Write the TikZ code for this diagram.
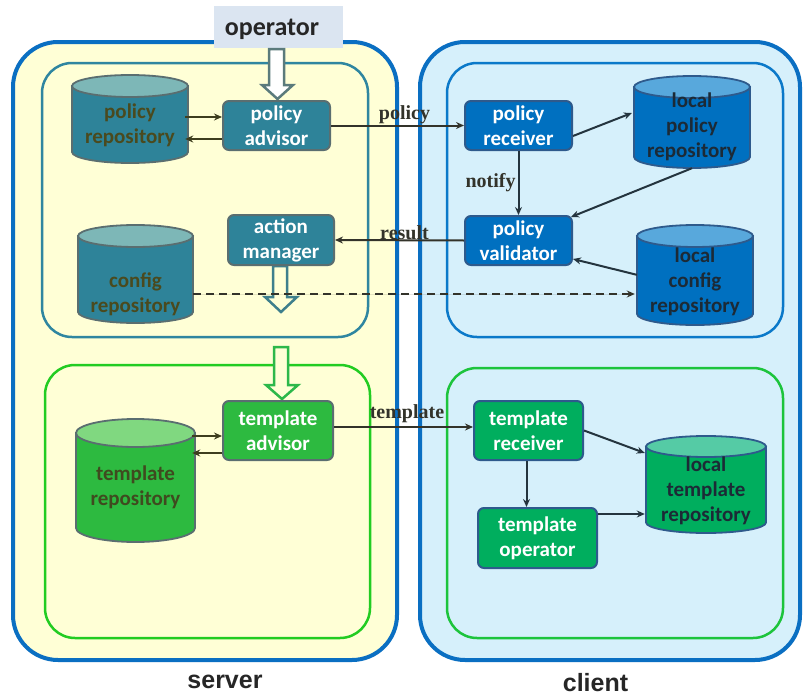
\documentclass[tikz,border=0pt]{standalone}
\usepackage{fontspec}
\setmainfont{Carlito}
\newfontfamily\lblfont{Liberation Serif}
\newfontfamily\ttlfont{Liberation Sans}
\usetikzlibrary{arrows.meta}
\definecolor{outerblue}{HTML}{0A6FC2}
\definecolor{serverbg}{HTML}{FFFFD6}
\definecolor{clientbg}{HTML}{D6F0FB}
\definecolor{tealline}{HTML}{2F86A0}
\definecolor{sgreenline}{HTML}{22CC22}
\definecolor{cblueline}{HTML}{0B79C9}
\definecolor{cgreenline}{HTML}{1DC43C}
\definecolor{opbg}{HTML}{DBE5F1}
\definecolor{tlbody}{HTML}{2E8399}
\definecolor{tltop}{HTML}{7DB7B7}
\definecolor{tltext}{HTML}{4A4A1E}
\definecolor{tlline}{HTML}{5A6E70}
\definecolor{sgbody}{HTML}{2DBA40}
\definecolor{sgtop}{HTML}{80D880}
\definecolor{sgtext}{HTML}{3F4A1F}
\definecolor{sgline}{HTML}{5A6E70}
\definecolor{cbbody}{HTML}{0070C0}
\definecolor{cbtop}{HTML}{58A8DC}
\definecolor{cbtext}{HTML}{1C2A36}
\definecolor{cbline}{HTML}{2E5A8C}
\definecolor{cgbody}{HTML}{00AE5E}
\definecolor{cgtop}{HTML}{55CBA5}
\definecolor{cgtext}{HTML}{1C2A36}
\definecolor{cgline}{HTML}{2E5A8C}
\definecolor{olivearr}{HTML}{3E3E1E}
\definecolor{slatearr}{HTML}{24343E}
\definecolor{midarr}{HTML}{33332A}
\definecolor{blockteal}{HTML}{5B7B7C}
\definecolor{blockteal2}{HTML}{3E7F8C}
\definecolor{blockgreen}{HTML}{2DB84A}
\newcommand{\dbcyl}[9]{%
 \pgfmathsetmacro{\dbcx}{(#2+#4)/2}%
 \pgfmathsetmacro{\dbrx}{(#4-#2)/2}%
 \pgfmathsetmacro{\dbya}{#3+#7}%
 \pgfmathsetmacro{\dbyb}{#5-#7}%
 \pgfmathsetmacro{\dbcy}{(#3+#5)/2}%
 \pgfmathsetmacro{\dbw}{#4-#2}%
 \pgfmathsetmacro{\dbh}{#5-#3}%
 \filldraw[line width=1.8pt, draw=#6line, fill=#6body] (#2,\dbya) -- (#2,\dbyb) arc[start angle=180, end angle=360, x radius=\dbrx pt, y radius=#7 pt] -- (#4,\dbya) -- cycle;
 \filldraw[line width=1.8pt, draw=#6line, fill=#6top] (\dbcx,\dbya) ellipse[x radius=\dbrx pt, y radius=#7 pt];
 \node[inner sep=0, minimum width=\dbw pt, minimum height=\dbh pt] (#1) at (\dbcx,\dbcy) {};
 \node[cyltext, text=#6text] (#1-t) at (\dbcx,#8) {#9};
}
\tikzset{
 boxtext/.style={font=\bfseries\fontsize{21}{25}\selectfont, align=center, inner sep=0},
 cyltext/.style={boxtext},
 nbox/.style={boxtext, rectangle, rounded corners=6pt, line width=2pt, text=white},
 tbox/.style={nbox, fill=tlbody, draw=tlline},
 gbox/.style={nbox, fill=sgbody, draw=sgline},
 bbox/.style={nbox, fill=cbbody, draw=cbline},
 cgbox/.style={nbox, fill=cgbody, draw=cgline},
 outerbox/.style={rounded corners=45pt, line width=4pt, draw=outerblue},
 innerbox/.style={rounded corners=30pt, line width=2.5pt},
 arr/.style={line width=2pt, -{Stealth[length=8pt,width=7pt]}},
 oarr/.style={arr, draw=olivearr, fill=olivearr},
 sarr/.style={arr, draw=slatearr, fill=slatearr},
 marr/.style={arr, draw=midarr, fill=midarr},
 lbl/.style={font=\lblfont\bfseries\fontsize{20}{22}\selectfont, text=midarr, inner sep=0},
 blockarr/.style={line width=2.5pt, line join=miter},
 ttl/.style={font=\ttlfont\bfseries\fontsize{25}{28}\selectfont, text=black!85, inner sep=0}
}
\begin{document}
\begin{tikzpicture}[x=1pt,y=-1pt]
\useasboundingbox (0,0) rectangle (804,696);
\fill[white] (0,0) rectangle (804,696);
% outer boxes
\draw[outerbox, fill=serverbg] (13,42) rectangle (397,660);
\draw[outerbox, fill=clientbg] (420,42) rectangle (800,660);
% inner boxes
\draw[innerbox, draw=tealline] (42,63) rectangle (368,337);
\draw[innerbox, draw=sgreenline] (45,365) rectangle (370,638);
\draw[innerbox, draw=cblueline] (447,63) rectangle (783,337);
\draw[innerbox, draw=cgreenline] (447,368) rectangle (783,638);
% operator
\node[fill=opbg, minimum width=129pt, minimum height=42pt, inner sep=0] (op) at (278.5,27) {};
\node[font=\bfseries\fontsize{26}{28}\selectfont, text=black!85, inner sep=0] (op-t) at (272,29) {operator};
% block arrows
\draw[blockarr, draw=blockteal, fill=white] (269,49) -- (284,49) -- (284,85) -- (293,85) -- (277.5,99) -- (262,85) -- (269,85) -- cycle;
\draw[blockarr, draw=blockteal2, fill=serverbg] (273,266) -- (287,266) -- (287,297) -- (297,297) -- (281,312) -- (265,297) -- (273,297) -- cycle;
\draw[blockarr, draw=blockgreen, fill=serverbg] (274,347) -- (288,347) -- (288,385) -- (298,385) -- (282,399) -- (266,385) -- (274,385) -- cycle;
% server nodes
\dbcyl{prepo}{72}{75}{188}{163}{tl}{11}{125}{policy\\repository}
\dbcyl{crepo}{78}{225}{193}{323}{tl}{11}{294}{config\\repository}
\dbcyl{trepo}{76}{419}{195}{542}{sg}{14}{487}{template\\repository}
\node[tbox, minimum width=107pt, minimum height=49pt] (padv) at (276.5,125.5) {policy\\advisor};
\node[tbox, minimum width=106pt, minimum height=50pt] (amgr) at (281,240) {action\\manager};
\node[gbox, minimum width=110pt, minimum height=59pt] (tadv) at (278,430.5) {template\\advisor};
% client nodes
\dbcyl{lprepo}{634}{76}{750}{168}{cb}{11}{127}{local\\policy\\repository}
\dbcyl{lcrepo}{637}{225}{753}{325}{cb}{11}{282}{local\\config\\repository}
\dbcyl{ltrepo}{646}{436}{766}{533}{cg}{10.5}{491}{local\\template\\repository}
\node[bbox, minimum width=107pt, minimum height=49pt] (prcv) at (518.5,125.5) {policy\\receiver};
\node[bbox, minimum width=107pt, minimum height=49pt] (pval) at (518.5,240.5) {policy\\validator};
\node[cgbox, minimum width=109pt, minimum height=59pt] (trcv) at (528.5,430.5) {template\\receiver};
\node[cgbox, minimum width=119pt, minimum height=60pt] (topr) at (537.5,538) {template\\operator};
% server connectors
\draw[oarr] ([xshift=-3pt,yshift=2pt]prepo.east) -- ([yshift=8.5pt]padv.west);
\draw[oarr] ([yshift=-13.5pt]padv.west) -- ([xshift=-3pt,yshift=-20pt]prepo.east);
\draw[oarr] ([xshift=-3pt,yshift=44.5pt]trepo.east) -- ([yshift=-5.5pt]tadv.west);
\draw[oarr] ([yshift=-22.5pt]tadv.west) -- ([xshift=-3pt,yshift=27.5pt]trepo.east);
% cross connectors
\draw[marr] (padv.east) -- (prcv.west) node[lbl, midway, xshift=7pt, yshift=11pt] (l-policy) {policy};
\draw[marr] (pval.west) -- (amgr.east) node[lbl, midway, xshift=5pt, yshift=8pt] (l-result) {result};
\draw[marr] ([yshift=3.5pt]tadv.east) -- ([yshift=3.5pt]trcv.west) node[lbl, midway, xshift=3.5pt, yshift=13pt] (l-template) {template};
\draw[marr, dashed, dash pattern=on 8pt off 5pt] ([yshift=-20pt]crepo.east) -- ([yshift=-19pt,xshift=-2pt]lcrepo.west);
% client connectors
\draw[sarr] ([yshift=-10.5pt]prcv.east) -- ([xshift=-2pt,yshift=9pt]lprepo.west);
\draw[sarr] (prcv.south) -- (pval.north) node[lbl, midway, anchor=east, xshift=-2pt] (l-notify) {notify};
\draw[sarr] (lprepo.south) -- ([xshift=-2pt,yshift=-2pt]pval.north east);
\draw[sarr] ([yshift=-50pt]lcrepo.north west) -- ([yshift=-18.5pt]pval.east);
\draw[sarr] (trcv.east) -- ([xshift=-1pt,yshift=31.5pt]ltrepo.west);
\draw[sarr] ([xshift=-2pt]trcv.south) -- ([xshift=-2pt]trcv.south |- topr.north);
\draw[sarr] ([yshift=24pt]topr.east) -- ([xshift=-1pt,yshift=-29.5pt]ltrepo.west);
% titles
\node[ttl] (server) at (225,682) {server};
\node[ttl] (client) at (595.5,683) {client};
\end{tikzpicture}
\end{document}
